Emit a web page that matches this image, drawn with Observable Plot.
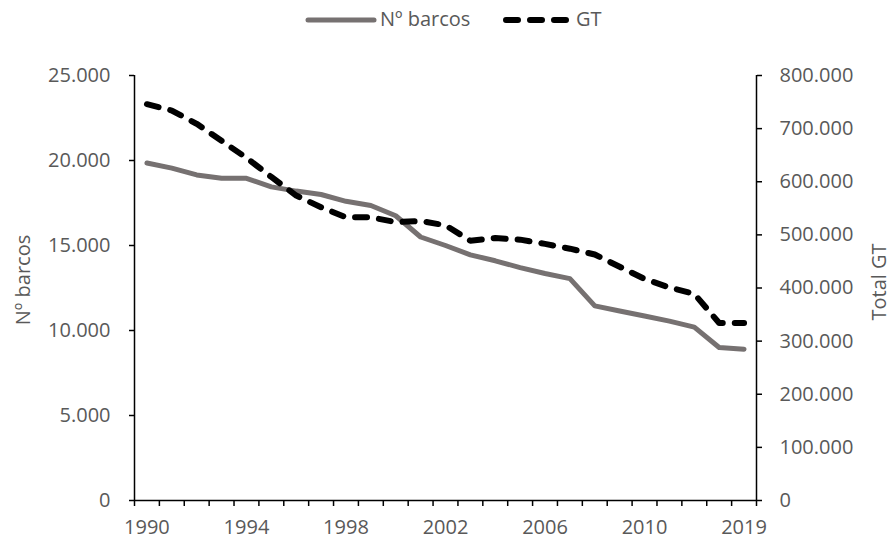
<!DOCTYPE html>
<html><head><meta charset="utf-8">
<script src="https://cdn.jsdelivr.net/npm/d3@7"></script>
<script src="https://cdn.jsdelivr.net/npm/@observablehq/plot@0.6"></script>
<style>
body{margin:0;background:#fff;font-family:"Open Sans",sans-serif;width:892px;height:540px;overflow:hidden;position:relative;}
#legend{position:relative;height:40px;color:#595959;font-size:20px;}
#legend .sw{position:absolute;top:15px;}
#legend .tx{position:absolute;top:5px;line-height:28px;white-space:nowrap;}
.ytitle{position:absolute;color:#595959;font-size:20px;white-space:nowrap;line-height:20px;transform:translate(-50%,-50%) rotate(-90deg);}
</style></head><body>
<div id="legend"></div>
<div id="chart"></div>
<div id="tl" class="ytitle" style="left:23px;top:280px"></div>
<div id="tr" class="ytitle" style="left:879px;top:282px"></div>
<script>
const years = ["1990","1991","1992","1993","1994","1995","1996","1997","1998","1999","2000","2001","2002","2003","2004","2005","2006","2007","2008","2009","2010","2011","2012","2018","2019"];
const barcos = [19850,19550,19150,18950,18950,18450,18200,18000,17600,17350,16750,15500,15000,14450,14100,13700,13350,13050,11450,11150,10850,10550,10200,9000,8900];
const gt = [746000,734000,709000,677000,645000,609000,574000,552000,533000,533000,524000,526000,518000,489000,494000,491000,483000,474000,463000,440000,417000,401000,389000,334000,334000];
const xTickLabels = ["1990","1994","1998","2002","2006","2010","2019"];
const leftTicks = [0,5000,10000,15000,20000,25000];
const rightTicks = [0,100000,200000,300000,400000,500000,600000,700000,800000];
const seriesNames = ["Nº barcos","GT"];
const axisTitles = ["Nº barcos","Total GT"];

const fmt = d3.formatLocale({decimal:",",thousands:".",grouping:[3],currency:["",""]}).format(",");
const k = 25000/800000;
const data = years.map((y,i)=>({i, year:y, barcos:barcos[i], gt:gt[i]*k}));

// legend
const leg = document.getElementById("legend");
leg.innerHTML =
  `<svg class="sw" style="left:305px" width="72" height="10"><line x1="3" y1="5" x2="69" y2="5" stroke="#767171" stroke-width="5" stroke-linecap="round"/></svg>` +
  `<div class="tx" style="left:380px">${seriesNames[0]}</div>` +
  `<svg class="sw" style="left:503px" width="66" height="10"><line x1="3" y1="5" x2="63" y2="5" stroke="#000" stroke-width="6" stroke-linecap="round" stroke-dasharray="12,12"/></svg>` +
  `<div class="tx" style="left:576px">${seriesNames[1]}</div>`;
document.getElementById("tl").textContent = axisTitles[0];
document.getElementById("tr").textContent = axisTitles[1];

const n = years.length;
const chart = Plot.plot({
  width: 892, height: 500,
  marginLeft: 134, marginRight: 136, marginTop: 35, marginBottom: 40,
  style: {fontFamily: "Open Sans, sans-serif", fontSize: "20px", color: "#595959", background: "white", overflow: "visible"},
  x: {type: "linear", domain: [-0.5, n - 0.5]},
  y: {domain: [0, 25000]},
  marks: [
    Plot.axisX({ticks: d3.range(-0.5, n, 1), tickSize: 6, tickFormat: () => "", stroke: "#000", strokeWidth: 1.5, label: null}),
    Plot.axisX({ticks: xTickLabels.map(l => years.indexOf(l)), tickSize: 0, tickPadding: 19, tickFormat: i => years[i], fill: "#595959", label: null}),
    Plot.axisY({ticks: leftTicks, tickSize: 5, tickPadding: 19, tickFormat: fmt, stroke: "#000", strokeWidth: 1.5, fill: "#595959", label: null}),
    Plot.axisY({anchor: "right", ticks: rightTicks.map(v => v * k), tickSize: 5, tickPadding: 18, tickFormat: v => fmt(Math.round(v / k)), stroke: "#000", strokeWidth: 1.5, fill: "#595959", label: null}),
    Plot.ruleX([-0.5, n - 0.5], {stroke: "#000", strokeWidth: 1.5}),
    Plot.ruleY([0], {stroke: "#000", strokeWidth: 1.5}),
    Plot.line(data, {x: "i", y: "barcos", stroke: "#767171", strokeWidth: 5}),
    Plot.line(data, {x: "i", y: "gt", stroke: "#000", strokeWidth: 6, strokeDasharray: "12,12", strokeLinecap: "round"})
  ]
});
document.getElementById("chart").appendChild(chart);
</script>
</body></html>
